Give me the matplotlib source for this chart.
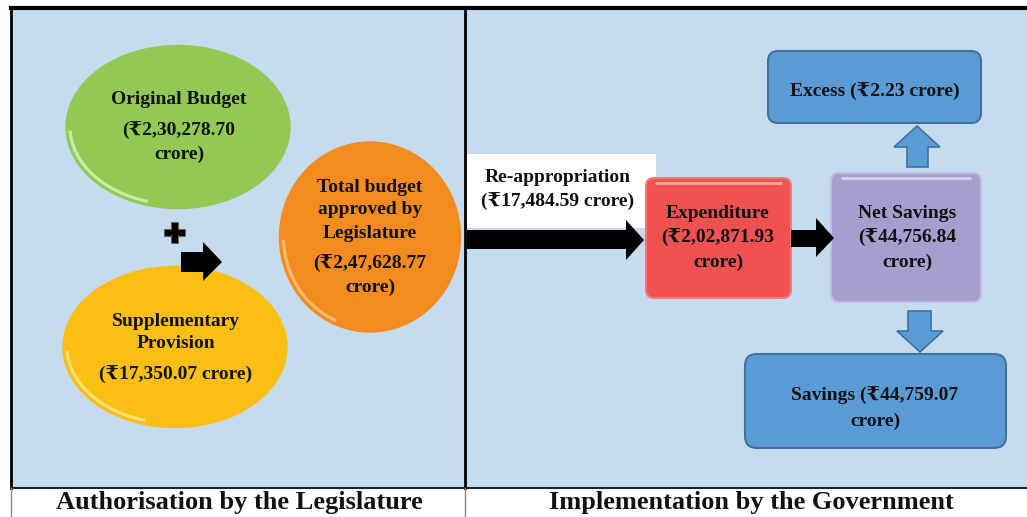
import matplotlib
matplotlib.use("Agg")
import matplotlib.pyplot as plt
from matplotlib.patches import Rectangle, Ellipse, FancyBboxPatch, Polygon, Arc

# ---- data (₹ crore) ----
original_budget = 230278.70
supplementary_provision = 17350.07
total_budget = 247628.77
reappropriation = 17484.59
expenditure = 202871.93
net_savings = 44756.84
excess = 2.23
savings = 44759.07

panel_titles = ["Authorisation by the Legislature", "Implementation by the Government"]


def inr(v):
    s = f"{v:.2f}"
    ip, dp = s.split(".")
    if len(ip) > 3:
        head, tail = ip[:-3], ip[-3:]
        groups = []
        while len(head) > 2:
            groups.insert(0, head[-2:])
            head = head[:-2]
        if head:
            groups.insert(0, head)
        ip = ",".join(groups + [tail])
    return f"\u20b9{ip}.{dp}"


FONT = ["Liberation Serif", "DejaVu Serif"]
BG = "#c5dcef"

fig = plt.figure(figsize=(10.27, 5.17), dpi=100)
ax = fig.add_axes([0, 0, 1, 1])
ax.set_xlim(0, 1027)
ax.set_ylim(517, 0)
ax.axis("off")


def txt(x, y, s, size=14, **kw):
    ax.text(x, y, s, ha="center", va="center", fontsize=size, fontweight="bold",
            family=FONT, color="#111111", **kw)


# panels
ax.add_patch(Rectangle((11, 8), 1016, 480, facecolor=BG, edgecolor="none", zorder=0))
ax.plot([11, 1027], [8, 8], color="black", lw=3, zorder=5)
ax.plot([11, 11], [8, 488], color="black", lw=2, zorder=5)
ax.plot([465, 465], [8, 488], color="black", lw=2, zorder=5)
ax.plot([11, 1027], [488, 488], color="#222222", lw=1.5, zorder=5)
ax.plot([11, 11], [488, 517], color="#888888", lw=1, zorder=5)
ax.plot([465, 465], [488, 517], color="#888888", lw=1, zorder=5)


# ---- left panel ----
def glossy_ellipse(cx, cy, w, h, color, light):
    ax.add_patch(Ellipse((cx, cy), w, h, facecolor=color, edgecolor=color, lw=1, zorder=2))
    ax.add_patch(Arc((cx, cy), w - 8, h - 8, theta1=112, theta2=178,
                     color=light, lw=2.2, alpha=0.7, zorder=3))

glossy_ellipse(178, 127, 224, 163, "#92c954", "#e6f6cc")
glossy_ellipse(175, 347, 224, 161, "#fbbf14", "#fff0a0")
glossy_ellipse(370, 237, 181, 190, "#f48b1f", "#ffd090")

txt(179, 99, "Original Budget")
txt(179, 131, "(" + inr(original_budget))
txt(179, 154, "crore)")

txt(176, 321, "Supplementary")
txt(176, 343, "Provision")
txt(176, 375, "(" + inr(supplementary_provision) + " crore)")

txt(370, 187, "Total budget")
txt(370, 210, "approved by")
txt(370, 233, "Legislature")
txt(370, 264, "(" + inr(total_budget))
txt(370, 287, "crore)")

# plus sign
ax.add_patch(Rectangle((164, 229), 21, 7, facecolor="black", edgecolor="#666666", lw=0.8, zorder=4))
ax.add_patch(Rectangle((171, 222), 7, 21, facecolor="black", edgecolor="#666666", lw=0.8, zorder=4))
ax.add_patch(Rectangle((164.6, 229.6), 19.8, 5.8, facecolor="black", edgecolor="none", zorder=4))

# black arrow left panel
ax.add_patch(Polygon([(181, 252), (203, 252), (203, 242), (222, 262), (203, 281),
                      (203, 272), (181, 272)], closed=True, facecolor="black",
                     edgecolor="none", zorder=4))

# ---- right panel ----
ax.add_patch(Rectangle((467, 154), 189, 74, facecolor="white", edgecolor="none", zorder=1))
txt(558, 178, "Re-appropriation")
txt(558, 202, "(" + inr(reappropriation) + " crore)")

ax.add_patch(Polygon([(467, 230), (626, 230), (626, 220), (644, 240), (626, 260),
                      (626, 249), (467, 249)], closed=True, facecolor="black",
                     edgecolor="none", zorder=4))


def rbox(x0, y0, x1, y1, fc, ec, pad=8, lw=1.5, z=2):
    ax.add_patch(FancyBboxPatch((x0 + pad, y0 + pad), x1 - x0 - 2 * pad, y1 - y0 - 2 * pad,
                                boxstyle=f"round,pad={pad}", facecolor=fc, edgecolor=ec,
                                lw=lw, zorder=z, mutation_aspect=1))


rbox(646, 178, 791, 298, "#f05252", "#f27a7a")
ax.plot([656, 781], [183, 183], color="#f8a0a0", lw=2, zorder=3, solid_capstyle="round")
txt(718, 214, "Expenditure")
txt(718, 238, "(" + inr(expenditure))
txt(718, 262, "crore)")

ax.add_patch(Polygon([(791, 230), (816, 230), (816, 218), (834, 238), (816, 257),
                      (816, 247), (791, 247)], closed=True, facecolor="black",
                     edgecolor="none", zorder=4))

rbox(831, 173, 981, 302, "#a59ecf", "#c2bce0")
ax.plot([842, 970], [178, 178], color="#d6d2ee", lw=2, zorder=3, solid_capstyle="round")
txt(907, 214, "Net Savings")
txt(907, 238, "(" + inr(net_savings))
txt(907, 262, "crore)")

rbox(768, 51, 981, 123, "#5b9bd5", "#41719c", pad=10)
txt(875, 92, "Excess (" + inr(excess) + " crore)")

rbox(745, 354, 1006, 448, "#5b9bd5", "#41719c", pad=12)
txt(875, 396, "Savings (" + inr(savings))
txt(875, 421, "crore)")

# up arrow
ax.add_patch(Polygon([(907, 167), (907, 147), (894, 147), (917, 126), (940, 147),
                      (928, 147), (928, 167)], closed=True, facecolor="#5b9bd5",
                     edgecolor="#41719c", lw=1.2, zorder=3))
# down arrow
ax.add_patch(Polygon([(908, 311), (931, 311), (931, 331), (943, 331), (920, 352),
                      (897, 331), (908, 331)], closed=True, facecolor="#5b9bd5",
                     edgecolor="#41719c", lw=1.2, zorder=3))

# captions
txt(239, 502, panel_titles[0], size=19)
txt(751, 502, panel_titles[1], size=19)

fig.savefig("out.png", dpi=100)
